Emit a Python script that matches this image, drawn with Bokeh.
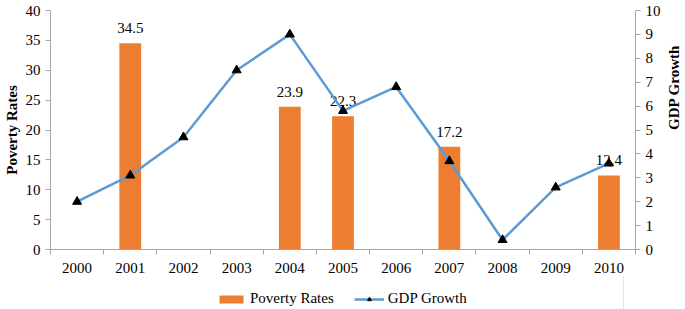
import math
from bokeh.plotting import figure
from bokeh.layouts import column
from bokeh.models import Range1d, LinearAxis, FixedTicker, Legend, LegendItem, ColumnDataSource
from bokeh.embed import file_html
from bokeh.resources import INLINE

years = [2000, 2001, 2002, 2003, 2004, 2005, 2006, 2007, 2008, 2009, 2010]
gdp_growth = [2.0, 3.1, 4.7, 7.5, 9.0, 5.8, 6.8, 3.7, 0.4, 2.6, 3.6]
poverty_years = [2001, 2004, 2005, 2007, 2010]
poverty_rates = [34.5, 23.9, 22.3, 17.2, 12.4]
poverty_labels = ["34.5", "23.9", "22.3", "17.2", "12.4"]
left_ticks = [0, 5, 10, 15, 20, 25, 30, 35, 40]
right_ticks = [0, 1, 2, 3, 4, 5, 6, 7, 8, 9, 10]

FONT = "Liberation Serif"
AXIS_GRAY = "#a6a6a6"
ORANGE = "#ED7D31"
BLUE = "#5B9BD5"

p = figure(frame_width=585, frame_height=239, output_backend="svg", toolbar_location=None,
           x_range=Range1d(years[0] - 0.5, years[-1] + 0.5), y_range=Range1d(0, 40),
           min_border_left=49, min_border_right=0, min_border_top=10, min_border_bottom=0)
p.extra_y_ranges = {"gdp": Range1d(0, 10)}
p.outline_line_color = None
p.grid.visible = False
p.background_fill_color = "white"

bar_src = ColumnDataSource(dict(x=poverty_years, top=poverty_rates, label=poverty_labels))
p.vbar(x="x", top="top", width=0.41, source=bar_src, fill_color=ORANGE, line_color=None)
p.text(x="x", y="top", text="label", source=bar_src, text_align="center",
       text_baseline="alphabetic", y_offset=-15, text_font="Liberation Serif",
       text_font_size="15px", text_color="black")

line_src = ColumnDataSource(dict(x=years, y=gdp_growth))
p.line(x="x", y="y", source=line_src, y_range_name="gdp", line_color=BLUE, line_width=2.5)
p.scatter(x="x", y="y", source=line_src, y_range_name="gdp", marker="triangle", size=9,
          fill_color="black", line_color="black")

right = LinearAxis(y_range_name="gdp", axis_label="GDP Growth")
p.add_layout(right, "right")

xa = p.xaxis[0]
xa.ticker = FixedTicker(ticks=years, minor_ticks=[y - 0.5 for y in years] + [years[-1] + 0.5])
xa.major_tick_line_color = None
xa.major_tick_out = 5
xa.major_tick_in = 0
xa.minor_tick_out = 5
xa.minor_tick_in = 0
xa.minor_tick_line_color = AXIS_GRAY
xa.major_label_standoff = 8

ya = p.yaxis[0]
ya.ticker = FixedTicker(ticks=left_ticks)
ya.axis_label = "Poverty Rates"
right.ticker = FixedTicker(ticks=right_ticks)

for ax in [xa, ya, right]:
    ax.axis_line_color = AXIS_GRAY
    ax.major_label_text_font = FONT
    ax.major_label_text_font_size = "15px"
    ax.major_label_text_color = "black"
    ax.axis_label_text_font = FONT
    ax.axis_label_text_font_size = "15px"
    ax.axis_label_text_font_style = "bold"
    ax.axis_label_text_color = "black"
for ax in [ya, right]:
    ax.major_tick_line_color = AXIS_GRAY
    ax.major_tick_out = 5
    ax.major_tick_in = 0
    ax.minor_tick_line_color = None
    ax.major_label_standoff = 5
ya.axis_label_standoff = 3
right.axis_label_standoff = 10
right.axis_label_orientation = math.pi / 2

# legend strip below the chart; its proxy glyphs reuse the chart data but lie outside its view
lg = figure(width=680, height=34, output_backend="svg", toolbar_location=None,
            x_axis_location=None, y_axis_location=None,
            x_range=Range1d(0, 1), y_range=Range1d(0, 1),
            min_border_left=0, min_border_right=0, min_border_top=0, min_border_bottom=0)
lg.outline_line_color = None
lg.grid.visible = False
lg.background_fill_color = None
lg.border_fill_color = None
lbar = lg.vbar(x=poverty_years[:1], top=poverty_rates[:1], width=0.41,
               fill_color=ORANGE, line_color=None)
lln = lg.line(x=years[:2], y=gdp_growth[:2], line_color=BLUE, line_width=2.5)
lmk = lg.scatter(x=years[:1], y=gdp_growth[:1], marker="triangle", size=9,
                 fill_color="black", line_color="black")
legend = Legend(items=[LegendItem(label="Poverty Rates", renderers=[lbar]),
                       LegendItem(label="GDP Growth", renderers=[lln, lmk])],
                orientation="horizontal", location=(166, 2),
                label_text_font=FONT, label_text_font_size="15px", label_text_color="black",
                glyph_width=30, glyph_height=10, label_height=16, label_standoff=4, spacing=20,
                border_line_color=None, background_fill_alpha=0, padding=1, margin=0)
lg.add_layout(legend, "center")

layout = column(p, lg, spacing=0)
open("out.html", "w").write(file_html(layout, INLINE))
